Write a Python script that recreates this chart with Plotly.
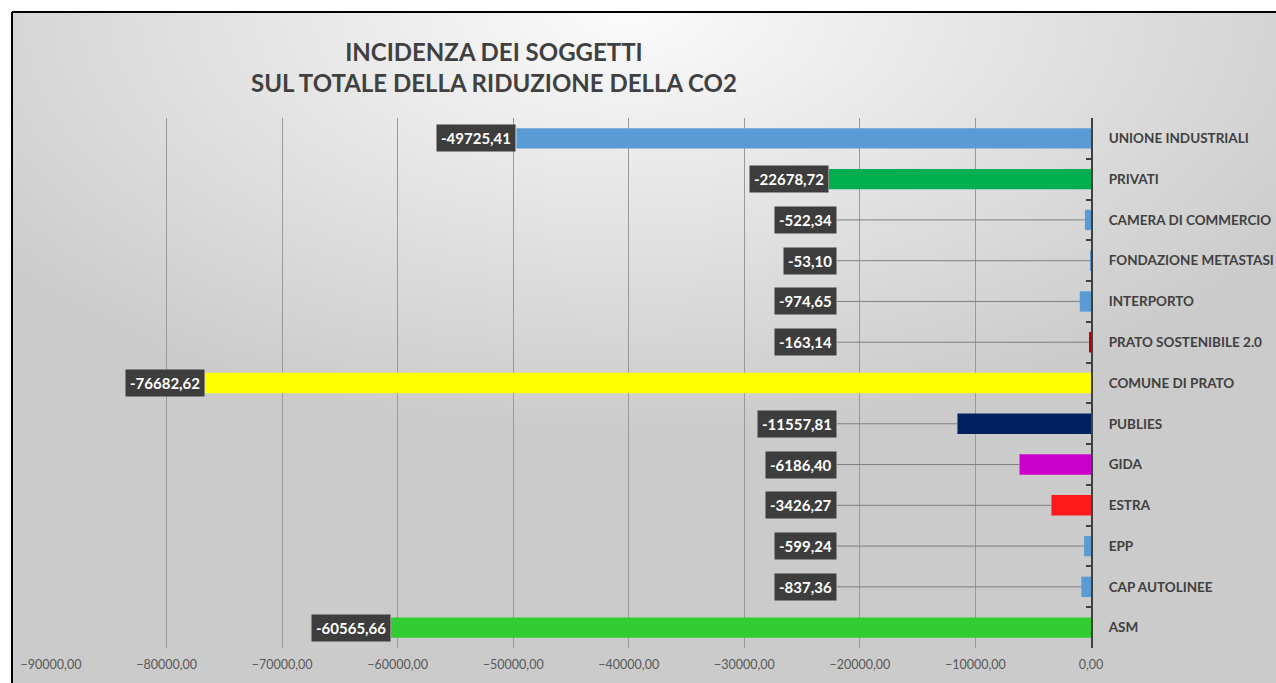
import base64
import plotly.graph_objects as go

categories = ["UNIONE INDUSTRIALI", "PRIVATI", "CAMERA DI COMMERCIO", "FONDAZIONE METASTASI",
              "INTERPORTO", "PRATO SOSTENIBILE 2.0", "COMUNE DI PRATO", "PUBLIES", "GIDA",
              "ESTRA", "EPP", "CAP AUTOLINEE", "ASM"]
values = [-49725.41, -22678.72, -522.34, -53.10, -974.65, -163.14, -76682.62,
          -11557.81, -6186.40, -3426.27, -599.24, -837.36, -60565.66]
bar_colors = ["#5B9BD5", "#00B050", "#5B9BD5", "#5B9BD5", "#5B9BD5", "#C00000", "#FFFF00",
              "#002060", "#CC00CC", "#FF1A1A", "#5B9BD5", "#5B9BD5", "#33CC33"]
x_ticks = [-90000, -80000, -70000, -60000, -50000, -40000, -30000, -20000, -10000, 0]

# figure a bit larger than the 1276x683 window (the window crops it)
W, H = 1296, 693
L, R, T, B = 51, 1091, 118, 648
pw, ph = R - L, B - T

def px_x(p):
    return (p - L) / pw

def px_y(p):
    return (B - p) / ph

# gradient background (Excel style)
svg = """<svg xmlns='http://www.w3.org/2000/svg' width='1264' height='672' preserveAspectRatio='none'>
<defs><radialGradient id='g' cx='0.48' cy='0.0' r='0.62'>
<stop offset='0' stop-color='#fbfbfb'/><stop offset='0.5' stop-color='#e3e3e3'/>
<stop offset='1' stop-color='#cbcbcb'/></radialGradient></defs>
<rect width='1264' height='672' fill='url(#g)'/></svg>"""
bg_uri = "data:image/svg+xml;base64," + base64.b64encode(svg.encode()).decode()

fig = go.Figure()
fig.add_trace(go.Bar(
    x=values, y=categories, orientation="h",
    marker=dict(color=bar_colors, line=dict(width=0)),
    width=0.5, showlegend=False, hoverinfo="x+y",
))

def fmt(v):
    return f"{v:.2f}".replace(".", ",")

label_font = dict(family="Lato", size=15, color="white", weight="bold")
for cat, v in zip(categories, values):
    if abs(v) > 15000:
        fig.add_annotation(x=v, y=cat, text=fmt(v), showarrow=False, xanchor="right",
                           bgcolor="#3d3d3d", borderpad=4, font=label_font)
    else:
        fig.add_annotation(x=v, y=cat, text=fmt(v), showarrow=True, arrowhead=0,
                           arrowwidth=1, arrowcolor="#7f7f7f",
                           ax=-22000, axref="x", ay=0, ayref="pixel", xanchor="right",
                           bgcolor="#3d3d3d", borderpad=4, font=label_font)

fig.add_annotation(
    x=px_x(494), y=px_y(67), xref="paper", yref="paper", showarrow=False,
    text="INCIDENZA DEI SOGGETTI<br>SUL TOTALE DELLA RIDUZIONE DELLA CO2",
    font=dict(family="Lato", size=24, color="#404040", weight="bold"),
    align="center", xanchor="center", yanchor="middle",
)

fig.add_layout_image(dict(
    source=bg_uri, xref="paper", yref="paper",
    x=px_x(12), y=px_y(11), sizex=(W - 12) / pw, sizey=(H - 11) / ph,
    xanchor="left", yanchor="top", sizing="stretch", layer="below",
))

# frame
fig.add_shape(type="line", xref="paper", yref="paper", x0=px_x(12), x1=px_x(W),
              y0=px_y(12), y1=px_y(12), line=dict(color="black", width=2))
fig.add_shape(type="line", xref="paper", yref="paper", x0=px_x(12), x1=px_x(12),
              y0=px_y(12), y1=px_y(H), line=dict(color="black", width=2))

fig.update_layout(
    width=W, height=H, autosize=False,
    margin=dict(l=L, r=W - R, t=T, b=H - B, pad=0),
    paper_bgcolor="white", plot_bgcolor="rgba(0,0,0,0)",
    separators=",.",
    bargap=0.5,
    font=dict(family="Lato", color="#404040"),
    xaxis=dict(
        range=[-90000, 0], tickvals=x_ticks, tickformat=".2f",
        showgrid=True, gridcolor="#999999", gridwidth=1, zeroline=False,
        showline=False, ticks="", ticklabelstandoff=7,
        tickfont=dict(family="Lato", size=12.5, color="#595959"),
    ),
    yaxis=dict(
        categoryorder="array", categoryarray=categories, autorange="reversed",
        side="right", showline=True, linecolor="#404040", linewidth=2,
        ticks="inside", tickson="boundaries", ticklen=5, tickwidth=2, tickcolor="#404040",
        showgrid=False, zeroline=False, ticklabelstandoff=13,
        tickfont=dict(family="Lato", size=13.5, color="#404040", weight="bold"),
    ),
)

fig.write_html("out.html", config={"responsive": False, "displayModeBar": False},
               post_script="document.body.style.margin='0';")
